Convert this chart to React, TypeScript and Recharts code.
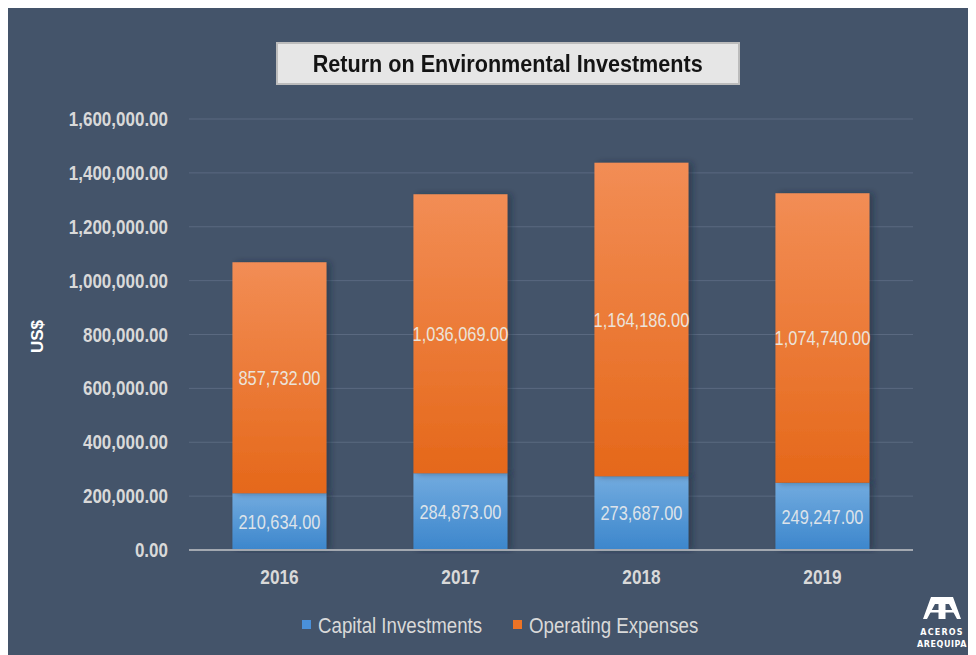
import React from 'react'
import { BarChart, Bar, XAxis, YAxis, CartesianGrid, Legend, LabelList } from 'recharts'

const years = ['2016', '2017', '2018', '2019']
const capitalInvestments = [210634, 284873, 273687, 249247]
const operatingExpenses = [857732, 1036069, 1164186, 1074740]
const yTicks = [0, 200000, 400000, 600000, 800000, 1000000, 1200000, 1400000, 1600000]

const data = years.map((year, i) => ({
  year,
  capital: capitalInvestments[i],
  opex: operatingExpenses[i],
}))

const BG = '#44546a'
const SANS = "'Liberation Sans', Arial, sans-serif"
const NARROW = 0.82 // Arial Narrow look: squeeze Liberation Sans horizontally
const TEXT = '#d9d9d9'

const fmt = (v: number) => v.toLocaleString('en-US', { minimumFractionDigits: 2, maximumFractionDigits: 2 })

function YTick({ x, y, payload }: any) {
  return (
    <g transform={`translate(${x},${y})`}>
      <text transform="scale(0.85,1)" textAnchor="end" dominantBaseline="central"
        fill={TEXT} fontFamily={SANS} fontWeight={700} fontSize={20}>
        {fmt(payload.value)}
      </text>
    </g>
  )
}

function XTick({ x, y, payload }: any) {
  return (
    <g transform={`translate(${x},${y})`}>
      <text transform={`scale(${NARROW},1)`} textAnchor="middle" dy="0.71em"
        fill={TEXT} fontFamily={SANS} fontWeight={700} fontSize={21}>
        {payload.value}
      </text>
    </g>
  )
}

function BarValue({ x, y, width, height, value, labelColor }: any) {
  const cx = Number(x) + Number(width) / 2
  const cy = Number(y) + Number(height) / 2
  return (
    <g transform={`translate(${cx},${cy})`}>
      <text transform={`scale(${NARROW},1)`} textAnchor="middle" dominantBaseline="central"
        fill={labelColor} style={{ fill: labelColor }} fontFamily={SANS} fontSize={20}>
        {fmt(Number(value))}
      </text>
    </g>
  )
}

function LegendContent() {
  const items = [
    { name: 'Capital Investments', color: '#4a90d9', left: 295 },
    { name: 'Operating Expenses', color: '#ed7325', left: 506 },
  ]
  return (
    <svg width={969} height={30} style={{ display: 'block' }}>
      {items.map(it => (
        <g key={it.name}>
          <rect x={it.left} y={10} width={9} height={9} fill={it.color} />
          <g transform={`translate(${it.left + 16},15)`}>
            <text transform="scale(0.85,1)" dominantBaseline="central"
              fill={TEXT} fontFamily={SANS} fontSize={22}>{it.name}</text>
          </g>
        </g>
      ))}
    </svg>
  )
}

function YLabel({ viewBox }: any) {
  if (!viewBox) return null
  const x = 30
  const y = viewBox.y + viewBox.height / 2 + 2
  return (
    <text x={x} y={y} transform={`rotate(-90 ${x} ${y})`} textAnchor="middle" dominantBaseline="central"
      fill="#ffffff" fontFamily={SANS} fontWeight={700} fontSize={17}>
      US$
    </text>
  )
}

export default function App() {
  return (
    <div style={{ position: 'relative', width: 969, height: 648, margin: '-1px 0 0 -1px', background: BG, overflow: 'hidden' }}>
      <div style={{
        position: 'absolute', left: 269, top: 35, width: 460, height: 39,
        background: '#e6e6e6', border: '2px solid #bcbcbc', display: 'flex', alignItems: 'center', justifyContent: 'center',
        fontFamily: SANS, fontWeight: 700, fontSize: 24, color: '#141414', zIndex: 2,
      }}>
        <span style={{ display: 'inline-block', transform: 'scaleX(0.9)', whiteSpace: 'nowrap' }}>
          Return on Environmental Investments
        </span>
      </div>
      <BarChart width={969} height={648} data={data} barCategoryGap="24%"
        margin={{ top: 112, right: 63, left: 82, bottom: 15 }}>
        <defs>
          <linearGradient id="gradBlue" x1="0" y1="0" x2="0" y2="1">
            <stop offset="0%" stopColor="#72abdf" />
            <stop offset="100%" stopColor="#3c86cc" />
          </linearGradient>
          <linearGradient id="gradOrange" x1="0" y1="0" x2="0" y2="1">
            <stop offset="0%" stopColor="#f28d55" />
            <stop offset="100%" stopColor="#e5681a" />
          </linearGradient>
          <filter id="barShadow" x="-10%" y="-5%" width="130%" height="110%">
            <feDropShadow dx="4" dy="0" stdDeviation="3" floodColor="#1e2633" floodOpacity="0.45" />
          </filter>
        </defs>
        <CartesianGrid vertical={false} stroke="#5a6980" strokeWidth={1} />
        <XAxis dataKey="year" height={60} tickLine={false} tickSize={0} tickMargin={19}
          axisLine={{ stroke: '#a3a8b0', strokeWidth: 2 }} tick={<XTick />} />
        <YAxis width={100} domain={[0, 1600000]} ticks={yTicks} axisLine={false} tickLine={false}
          tickSize={0} tickMargin={21} interval={0} tick={<YTick />} label={<YLabel />} />
        <Legend verticalAlign="bottom" align="center" content={<LegendContent />}
          wrapperStyle={{ left: 0, width: 969, height: 30 }} />
        <Bar dataKey="capital" name="Capital Investments" stackId="a" fill="url(#gradBlue)"
          filter="url(#barShadow)" isAnimationActive={false}>
          <LabelList dataKey="capital" content={<BarValue labelColor="#dde3ea" />} />
        </Bar>
        <Bar dataKey="opex" name="Operating Expenses" stackId="a" fill="url(#gradOrange)"
          filter="url(#barShadow)" isAnimationActive={false}>
          <LabelList dataKey="opex" content={<BarValue labelColor="#ebe3da" />} />
        </Bar>
      </BarChart>
      <svg style={{ position: 'absolute', left: 905, top: 585 }} width={62} height={62}>
        <g fill="#ffffff">
          <path d="M19 5 L30 5 L30 27 L26.5 27 L26.5 12 L23 12 L15 27 L11 27 Z" />
          <path d="M30 5 L41 5 L49 27 L45 27 L37 12 L33.5 12 L33.5 27 L30 27 Z" />
          <rect x="17" y="18" width="26" height="2.5" />
        </g>
        <text x="30" y="43" textAnchor="middle" fill="#ffffff" fontFamily="'DejaVu Sans', sans-serif" fontWeight={700}
          fontSize={8} letterSpacing={1.2}>ACEROS</text>
        <text x="30" y="55" textAnchor="middle" fill="#ffffff" fontFamily="'DejaVu Sans', sans-serif" fontWeight={700}
          fontSize={8} letterSpacing={0.6}>AREQUIPA</text>
      </svg>
    </div>
  )
}
